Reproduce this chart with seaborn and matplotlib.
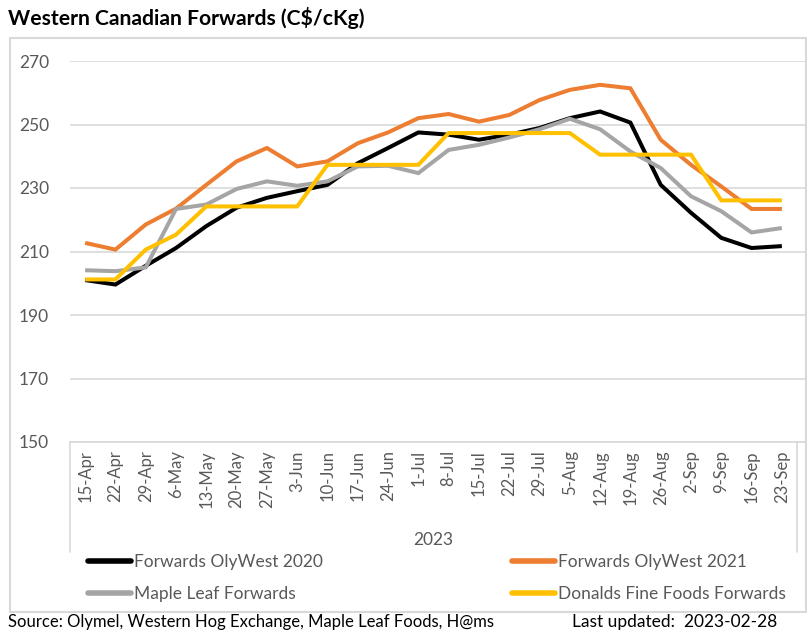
import matplotlib
matplotlib.use("Agg")
import matplotlib.pyplot as plt
import matplotlib.transforms as mtransforms
from matplotlib.patches import Rectangle
import seaborn as sns
import pandas as pd

dates = ["15-Apr", "22-Apr", "29-Apr", "6-May", "13-May", "20-May", "27-May", "3-Jun",
         "10-Jun", "17-Jun", "24-Jun", "1-Jul", "8-Jul", "15-Jul", "22-Jul", "29-Jul",
         "5-Aug", "12-Aug", "19-Aug", "26-Aug", "2-Sep", "9-Sep", "16-Sep", "23-Sep"]

olywest_2020 = [201.0, 199.6, 205.5, 211.1, 218.0, 223.8, 226.9, 229.0, 231.0, 237.8, 242.6, 247.5,
                246.8, 245.2, 246.8, 248.9, 252.0, 254.1, 250.6, 231.0, 222.2, 214.3, 211.1, 211.7]
olywest_2021 = [212.7, 210.6, 218.5, 223.5, 231.0, 238.4, 242.6, 236.8, 238.4, 244.1, 247.5, 252.0,
                253.3, 250.9, 253.0, 257.7, 260.9, 262.5, 261.4, 245.2, 237.3, 230.5, 223.4, 223.4]
maple_leaf = [204.1, 203.8, 205.0, 223.4, 224.8, 229.7, 232.1, 230.7, 232.1, 236.8, 237.0, 234.7,
              242.0, 243.6, 245.9, 248.5, 251.8, 248.5, 241.5, 236.3, 227.4, 222.7, 216.0, 217.4]
donalds = [201.2, 201.2, 210.6, 215.3, 224.2, 224.2, 224.2, 224.2, 237.3, 237.3, 237.3, 237.3,
           247.3, 247.3, 247.3, 247.3, 247.3, 240.5, 240.5, 240.5, 240.5, 226.1, 226.1, 226.1]

series_names = ["Forwards OlyWest 2020", "Forwards OlyWest 2021",
                "Maple Leaf Forwards", "Donalds Fine Foods Forwards"]
series_colors = ["#000000", "#ED7D31", "#A5A5A5", "#FFC000"]
y_ticks = [150, 170, 190, 210, 230, 250, 270]

frames = []
for name, vals in zip(series_names, [olywest_2020, olywest_2021, maple_leaf, donalds]):
    frames.append(pd.DataFrame({"date": dates, "value": vals, "series": name}))
df = pd.concat(frames, ignore_index=True)
df["pos"] = df["date"].map({d: i for i, d in enumerate(dates)})

sns.set_style("white")
FONT = ["Lato", "DejaVu Sans"]
plt.rcParams["font.family"] = FONT

W, H = 807, 639
fig = plt.figure(figsize=(W / 100, H / 100), dpi=100)

def fx(px):
    return px / W

def fy(py):
    return 1 - py / H

left, right, top, bottom = 70, 807, 61, 442
ax = fig.add_axes([fx(left), fy(bottom), fx(right) - fx(left), fy(top) - fy(bottom)])

sns.lineplot(data=df, x="pos", y="value", hue="series", hue_order=series_names,
             palette=series_colors, linewidth=2.9, ax=ax, legend=False,
             solid_joinstyle="miter", solid_capstyle="butt")

spacing = (797 - 70) / 24.0
ax.set_xlim(-0.5, -0.5 + (right - left) / spacing)
ax.set_ylim(150, 270)
ax.set_yticks(y_ticks)
ax.set_yticklabels([str(v) for v in y_ticks], color="#595959", fontsize=12.5)
ax.set_xticks(range(len(dates)))
ax.set_xticklabels(dates, rotation=90, color="#595959", fontsize=12)
ax.tick_params(axis="both", length=0)
ax.tick_params(axis="y", pad=15)
ax.tick_params(axis="x", pad=6)
ax.grid(axis="y", color="#d9d9d9", linewidth=1.2)
ax.grid(axis="x", visible=False)
ax.set_axisbelow(True)
for s in ["top", "right", "left"]:
    ax.spines[s].set_visible(False)
ax.spines["bottom"].set_color("#d9d9d9")
ax.spines["bottom"].set_linewidth(1.2)
ax.set_xlabel("")
ax.set_ylabel("")

# category group separators
trans = mtransforms.blended_transform_factory(ax.transData, ax.transAxes)
sep_y = -(552 - bottom) / (bottom - top)
for xv in [-0.5, 23.5]:
    ax.plot([xv, xv], [0, sep_y], transform=trans, color="#d9d9d9", linewidth=1.2, clip_on=False)

fig.text(fx(433), fy(540), "2023", ha="center", va="center", color="#595959", fontsize=12.5)

# outer frame
fig.add_artist(Rectangle((fx(10), fy(612)), fx(806) - fx(10), fy(38) - fy(612),
                         transform=fig.transFigure, fill=False, edgecolor="#d9d9d9", linewidth=1.5))

# title
fig.text(fx(8), fy(18), "Western Canadian Forwards (C$/cKg)", ha="left", va="center",
         fontsize=15.2, fontweight="bold", color="#000000")

# legend (row-major order: 2020, 2021 / Maple, Donalds)
order = [0, 2, 1, 3]
handles = [plt.Line2D([], [], color=series_colors[i], linewidth=4) for i in order]
labels = [series_names[i] for i in order]
fig.legend(handles, labels, ncol=2, loc="center left",
           bbox_to_anchor=(fx(72), fy(578)), frameon=False, fontsize=12.5,
           handlelength=2.5, handletextpad=0.17, columnspacing=10.9, labelspacing=0.95,
           labelcolor="#595959")

# source
fig.text(fx(8), fy(622), "Source: Olymel, Western Hog Exchange, Maple Leaf Foods, H@ms",
         ha="left", va="center", fontsize=12, color="#000000")
fig.text(fx(572), fy(622), "Last updated:  2023-02-28", ha="left", va="center",
         fontsize=12.5, color="#000000")

fig.savefig("out.png", dpi=100)
